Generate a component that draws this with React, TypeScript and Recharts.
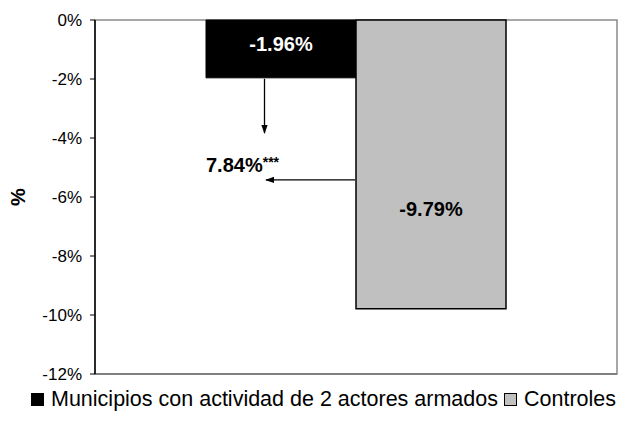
import React from "react";
import {
  Bar,
  BarChart,
  Label,
  LabelList,
  Legend,
  ReferenceArea,
  XAxis,
  YAxis
} from "recharts";

const categories = ["Impacto"];
const municipios = [-1.96];
const controles = [-9.79];
const yTicks = [0, -2, -4, -6, -8, -10, -12];
const seriesNames = ["Municipios con actividad de 2 actores armados", "Controles"];
const diffLabel = "7.84%";
const diffStars = "***";

// annotation anchors in data units (%)
const arrowDownEnd = -3.83;
const arrowLeftAt = -5.42;
const diffLabelAt = -5.15;
const municipiosLabelAt = -0.82;
const controlesLabelAt = -6.4;

const data = categories.map((name, i) => ({
  name,
  municipios: municipios[i],
  controles: controles[i]
}));

const font = "'Liberation Sans', Arial, Helvetica, sans-serif";

function geom(props: any, value: number) {
  const x = Number(props.x);
  const w = Number(props.width);
  const y = Number(props.y);
  const h = Number(props.height);
  const top = Math.min(y, y + h);
  const px = Math.abs(h) / Math.abs(value);
  return { x, w, top, at: (v: number) => top + Math.abs(v) * px };
}

function MunicipiosMarks(props: any) {
  const g = geom(props, municipios[0]);
  const ax = g.x + g.w * 0.39;
  return (
    <g>
      <defs>
        <marker id="arrowHead" viewBox="0 0 10 10" refX="9" refY="5" markerWidth="7" markerHeight="7" orient="auto">
          <path d="M0,1.5 L10,5 L0,8.5 z" fill="#000" />
        </marker>
      </defs>
      <text x={g.x + g.w / 2} y={g.at(municipiosLabelAt)} fill="#fff" fontSize={20} fontWeight="bold" textAnchor="middle" dominantBaseline="central" fontFamily={font}>
        {`${municipios[0].toFixed(2)}%`}
      </text>
      <line x1={ax} y1={g.at(municipios[0]) + 1} x2={ax} y2={g.at(arrowDownEnd)} stroke="#000" strokeWidth={1.3} markerEnd="url(#arrowHead)" />
    </g>
  );
}

function ControlesMarks(props: any) {
  const g = geom(props, controles[0]);
  const blackX = g.x - g.w;
  return (
    <g>
      <text x={g.x + g.w / 2} y={g.at(controlesLabelAt)} fill="#000" fontSize={20} fontWeight="bold" textAnchor="middle" dominantBaseline="central" fontFamily={font}>
        {`${controles[0].toFixed(2)}%`}
      </text>
      <line x1={g.x - 1} y1={g.at(arrowLeftAt)} x2={blackX + g.w * 0.4} y2={g.at(arrowLeftAt)} stroke="#000" strokeWidth={1.3} markerEnd="url(#arrowHead)" />
      <text x={blackX} y={g.at(diffLabelAt)} fill="#000" fontSize={20} fontWeight="bold" fontFamily={font}>
        {diffLabel}
        <tspan fontSize={14} dy={-5}>{diffStars}</tspan>
      </text>
    </g>
  );
}

function LegendBox() {
  const swatches = ["#000000", "#c0c0c0"];
  return (
    <div style={{ display: "flex", justifyContent: "center", alignItems: "center", height: 22, fontSize: 21.5, fontFamily: font, color: "#000", whiteSpace: "nowrap", paddingLeft: 30 }}>
      {seriesNames.map((n, i) => (
        <span key={n} style={{ display: "inline-flex", alignItems: "center", marginLeft: i ? 6 : 0 }}>
          <span style={{ display: "inline-block", width: 11, height: 11, background: swatches[i], border: "1.5px solid #000", marginRight: 7 }} />
          {n}
        </span>
      ))}
    </div>
  );
}

export default function App() {
  return (
    <div style={{ position: "absolute", left: 0, top: 0, width: 627, height: 429, background: "#fff", fontFamily: font }}>
      <BarChart width={627} height={429} data={data} margin={{ top: 20, right: 10, left: 0, bottom: 19 }} barGap={0} barSize={150}>
        <ReferenceArea y1={-12} y2={0} fill="none" stroke="#8a8a8a" strokeWidth={1.5} ifOverflow="visible" />
        <XAxis dataKey="name" tick={false} tickLine={false} axisLine={{ stroke: "#808080", strokeWidth: 2 }} height={14} />
        <YAxis
          domain={[-12, 0]}
          ticks={yTicks}
          interval={0}
          width={95}
          tickFormatter={(v: number) => `${v}%`}
          tick={{ fontSize: 17, fill: "#000", fontFamily: font }}
          tickSize={5}
          tickMargin={8}
          tickLine={{ stroke: "#000" }}
          axisLine={{ stroke: "#000", strokeWidth: 1.5 }}
        >
          <Label
            content={(p: any) => (
              <text x={18} y={p.viewBox.y + p.viewBox.height / 2} transform={`rotate(-90 18 ${p.viewBox.y + p.viewBox.height / 2})`} textAnchor="middle" dominantBaseline="central" fontSize={20} fontWeight="bold" fontFamily={font} fill="#000">
                %
              </text>
            )}
          />
        </YAxis>
        <Legend verticalAlign="bottom" content={() => <LegendBox />} />
        <Bar dataKey="municipios" name={seriesNames[0]} fill="#000000" stroke="#000" strokeWidth={1} isAnimationActive={false}>
          <LabelList dataKey="municipios" content={MunicipiosMarks} />
        </Bar>
        <Bar dataKey="controles" name={seriesNames[1]} fill="#c0c0c0" stroke="#000" strokeWidth={1.5} isAnimationActive={false}>
          <LabelList dataKey="controles" content={ControlesMarks} />
        </Bar>
      </BarChart>
    </div>
  );
}
